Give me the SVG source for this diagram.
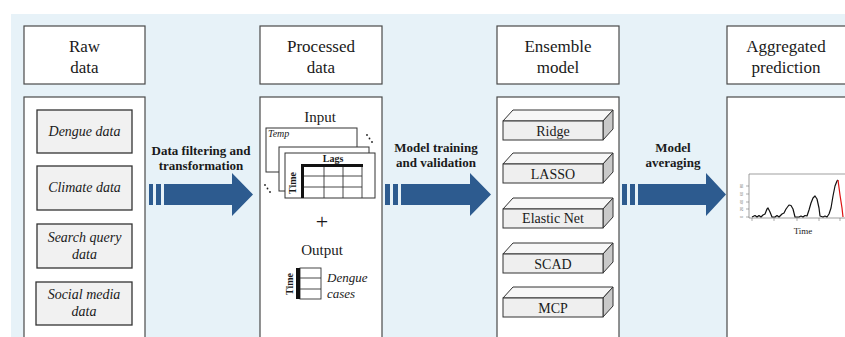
<svg xmlns="http://www.w3.org/2000/svg" width="845" height="337" viewBox="0 0 845 337" font-family="'Liberation Serif', Tinos, 'Times New Roman', serif">
  <style>
    text { font-family: "Liberation Serif", Tinos, "Times New Roman", serif; fill: #1a1a1a; }
    .head { font-size: 17px; text-anchor: middle; }
    .panel { fill: #ffffff; stroke: #4a4a4a; stroke-width: 1.2; }
    .src { fill: #f1f1f1; stroke: #333333; stroke-width: 1.3; }
    .src-t { font-size: 14px; font-style: italic; text-anchor: middle; }
    .lbl { font-size: 13px; font-weight: bold; text-anchor: middle; }
    .arrow { fill: #2d5b8f; }
    .sheet { fill: #ffffff; stroke: #333333; stroke-width: 1; }
    .grid { stroke: #333333; stroke-width: 0.9; fill: none; }
    .front { fill: #efefef; stroke: #333333; stroke-width: 1; }
    .top { fill: #f7f7f7; stroke: #333333; stroke-width: 1; }
    .side { fill: #c9c9c9; stroke: #333333; stroke-width: 1; }
    .mdl { font-size: 14px; text-anchor: middle; }
    text.tick { font-family: "Liberation Sans", Arial, sans-serif; font-size: 4px; fill: #777777; text-anchor: middle; }
  </style>

  <!-- backdrop -->
  <rect x="11" y="14" width="834" height="323" fill="#e7f2f8"/>

  <!-- stage 1: raw data -->
  <g id="raw-data">
    <rect class="panel" x="24" y="26" width="121" height="58"/>
    <text class="head" x="84.5" y="52">Raw</text>
    <text class="head" x="84.5" y="73">data</text>
    <rect class="panel" x="24" y="97" width="121" height="250"/>
  </g>
  <g id="dengue-data">
    <rect class="src" x="37" y="110" width="95" height="43"/>
    <text class="src-t" x="84.5" y="136">Dengue data</text>
  </g>
  <g id="climate-data">
    <rect class="src" x="37" y="166" width="95" height="44"/>
    <text class="src-t" x="84.5" y="192">Climate data</text>
  </g>
  <g id="search-query-data">
    <rect class="src" x="37" y="224" width="95" height="44"/>
    <text class="src-t" x="84.5" y="242">Search query</text>
    <text class="src-t" x="84.5" y="259">data</text>
  </g>
  <g id="social-media-data">
    <rect class="src" x="36" y="282" width="96" height="43"/>
    <text class="src-t" x="84" y="299">Social media</text>
    <text class="src-t" x="84" y="316">data</text>
  </g>

  <!-- stage 2: processed data -->
  <g id="processed-data">
    <rect class="panel" x="260" y="26" width="122" height="58"/>
    <text class="head" x="321" y="52">Processed</text>
    <text class="head" x="321" y="73">data</text>
    <rect class="panel" x="260" y="97" width="122" height="250"/>

    <text x="320" y="122" font-size="15" text-anchor="middle">Input</text>
    <!-- stacked predictor sheets -->
    <rect class="sheet" x="266" y="128" width="91" height="44"/>
    <text x="268" y="137" font-size="10" font-style="italic">Temp</text>
    <rect class="sheet" x="279" y="147" width="90" height="44"/>
    <rect class="sheet" x="285" y="153" width="90" height="45"/>
    <text x="333" y="162" font-size="10" font-weight="bold" text-anchor="middle">Lags</text>
    <text transform="translate(296,183) rotate(-90)" font-size="10" font-weight="bold" text-anchor="middle">Time</text>
    <g class="grid">
      <line x1="324" y1="165" x2="324" y2="198"/>
      <line x1="343" y1="165" x2="343" y2="198"/>
      <line x1="302" y1="176" x2="362" y2="176"/>
      <line x1="302" y1="187" x2="362" y2="187"/>
      <line x1="362" y1="165" x2="362" y2="198"/>
    </g>
    <line x1="301" y1="165.5" x2="363" y2="165.5" stroke="#111" stroke-width="3"/>
    <line x1="302.5" y1="164" x2="302.5" y2="198" stroke="#111" stroke-width="3"/>
    <!-- ellipsis dots -->
    <g fill="#222">
      <circle cx="367" cy="135" r="0.9"/><circle cx="369.5" cy="138.5" r="0.9"/><circle cx="372" cy="142" r="0.9"/>
      <circle cx="265" cy="185" r="0.9"/><circle cx="267.5" cy="188.5" r="0.9"/><circle cx="270" cy="192" r="0.9"/>
    </g>

    <text x="322" y="229" font-size="22" text-anchor="middle">+</text>
    <text x="322" y="255" font-size="15" text-anchor="middle">Output</text>
    <!-- response column -->
    <g class="grid">
      <rect x="300" y="268" width="21" height="31"/>
      <line x1="300" y1="278" x2="321" y2="278"/>
      <line x1="300" y1="289" x2="321" y2="289"/>
    </g>
    <rect x="296" y="268" width="4" height="31" fill="#111"/>
    <text transform="translate(293,284) rotate(-90)" font-size="10" font-weight="bold" text-anchor="middle">Time</text>
    <text x="327" y="282" font-size="13" font-style="italic">Dengue</text>
    <text x="327" y="298" font-size="13" font-style="italic">cases</text>
  </g>

  <!-- stage 3: ensemble model -->
  <g id="ensemble-model">
    <rect class="panel" x="497" y="26" width="122" height="58"/>
    <text class="head" x="558" y="52">Ensemble</text>
    <text class="head" x="558" y="73">model</text>
    <rect class="panel" x="497" y="97" width="122" height="250"/>
  </g>
  <g id="ridge">
    <polygon class="top" points="503,121 513,110 613,110 603,121"/>
    <polygon class="side" points="603,121 613,110 613,129 603,140"/>
    <rect class="front" x="503" y="121" width="100" height="19"/>
    <text class="mdl" x="553" y="135.5">Ridge</text>
  </g>
  <g id="lasso">
    <polygon class="top" points="503,164 513,153 613,153 603,164"/>
    <polygon class="side" points="603,164 613,153 613,172 603,183"/>
    <rect class="front" x="503" y="164" width="100" height="19"/>
    <text class="mdl" x="553" y="178.5">LASSO</text>
  </g>
  <g id="elastic-net">
    <polygon class="top" points="503,209 513,198 613,198 603,209"/>
    <polygon class="side" points="603,209 613,198 613,217 603,228"/>
    <rect class="front" x="503" y="209" width="100" height="19"/>
    <text class="mdl" x="553" y="223" font-size="13">Elastic Net</text>
  </g>
  <g id="scad">
    <polygon class="top" points="503,254 513,243 613,243 603,254"/>
    <polygon class="side" points="603,254 613,243 613,262 603,273"/>
    <rect class="front" x="503" y="254" width="100" height="19"/>
    <text class="mdl" x="553" y="268.5">SCAD</text>
  </g>
  <g id="mcp">
    <polygon class="top" points="503,298 513,287 613,287 603,298"/>
    <polygon class="side" points="603,298 613,287 613,306 603,317"/>
    <rect class="front" x="503" y="298" width="100" height="19"/>
    <text class="mdl" x="553" y="312.5">MCP</text>
  </g>

  <!-- stage 4: aggregated prediction -->
  <g id="aggregated-prediction">
    <rect class="panel" x="727" y="26" width="124" height="58"/>
    <text class="head" x="786" y="52">Aggregated</text>
    <text class="head" x="786" y="73">prediction</text>
    <rect class="panel" x="727" y="97" width="124" height="250"/>
    <!-- forecast plot -->
    <path d="M749,174 H846 M749,174 V218 H846" fill="none" stroke="#777" stroke-width="0.7"/>
    <g stroke="#777" stroke-width="0.6">
      <line x1="752" y1="218" x2="752" y2="221"/>
      <line x1="774" y1="218" x2="774" y2="221"/>
      <line x1="797" y1="218" x2="797" y2="221"/>
      <line x1="819" y1="218" x2="819" y2="221"/>
      <line x1="840" y1="218" x2="840" y2="221"/>
      <line x1="746" y1="186" x2="749" y2="186"/>
      <line x1="746" y1="194" x2="749" y2="194"/>
      <line x1="746" y1="202" x2="749" y2="202"/>
      <line x1="746" y1="209" x2="749" y2="209"/>
      <line x1="746" y1="217" x2="749" y2="217"/>
    </g>
    <text class="tick" transform="translate(743,186) rotate(-90)">80</text>
    <text class="tick" transform="translate(743,194) rotate(-90)">60</text>
    <text class="tick" transform="translate(743,202) rotate(-90)">40</text>
    <text class="tick" transform="translate(743,209) rotate(-90)">20</text>
    <text class="tick" transform="translate(743,217) rotate(-90)">0</text>
    <polyline fill="none" stroke="#111" stroke-width="1.2" stroke-linejoin="round"
      points="752,217 755,215.5 757,217 759,215.5 761,217 763,215 765,214 767,209 768,208 770,212 772,217 775,217 777,215.5 779,217 782,214 784,213 786,209 789,205 791,205.5 793,209 795,217 799,217 801,216 803,217 805,215.5 807,216 809,210 811,203 813,198 815,196 817,199 819,208 820,216 823,217 825,216 827,217 829,214 831,208 833,196 835,186 837,181 838,180"/>
    <polyline fill="none" stroke="#d11" stroke-width="1.2" points="838,180 840,195 842,208 843,217"/>
    <text x="803" y="234" font-size="9" text-anchor="middle">Time</text>
  </g>

  <!-- connectors -->
  <g id="connectors">
    <g id="arrow-filter">
      <rect class="arrow" x="149" y="184" width="4" height="21"/>
      <rect class="arrow" x="156" y="184" width="5" height="21"/>
      <polygon class="arrow" points="164,184 232,184 232,173 253,194.5 232,216 232,205 164,205"/>
      <text class="lbl" x="201" y="155">Data filtering and</text>
      <text class="lbl" x="201" y="170">transformation</text>
    </g>
    <g id="arrow-train">
      <rect class="arrow" x="385" y="184" width="5" height="21"/>
      <rect class="arrow" x="393" y="184" width="5" height="21"/>
      <polygon class="arrow" points="401,184 470,184 470,173 491,194.5 470,216 470,205 401,205"/>
      <text class="lbl" x="436" y="152">Model training</text>
      <text class="lbl" x="436" y="167">and validation</text>
    </g>
    <g id="arrow-average">
      <rect class="arrow" x="622" y="184" width="5" height="21"/>
      <rect class="arrow" x="630" y="184" width="5" height="21"/>
      <polygon class="arrow" points="638,184 706,184 706,173 726,194.5 706,216 706,205 638,205"/>
      <text class="lbl" x="673" y="152">Model</text>
      <text class="lbl" x="673" y="167">averaging</text>
    </g>
  </g>
</svg>
